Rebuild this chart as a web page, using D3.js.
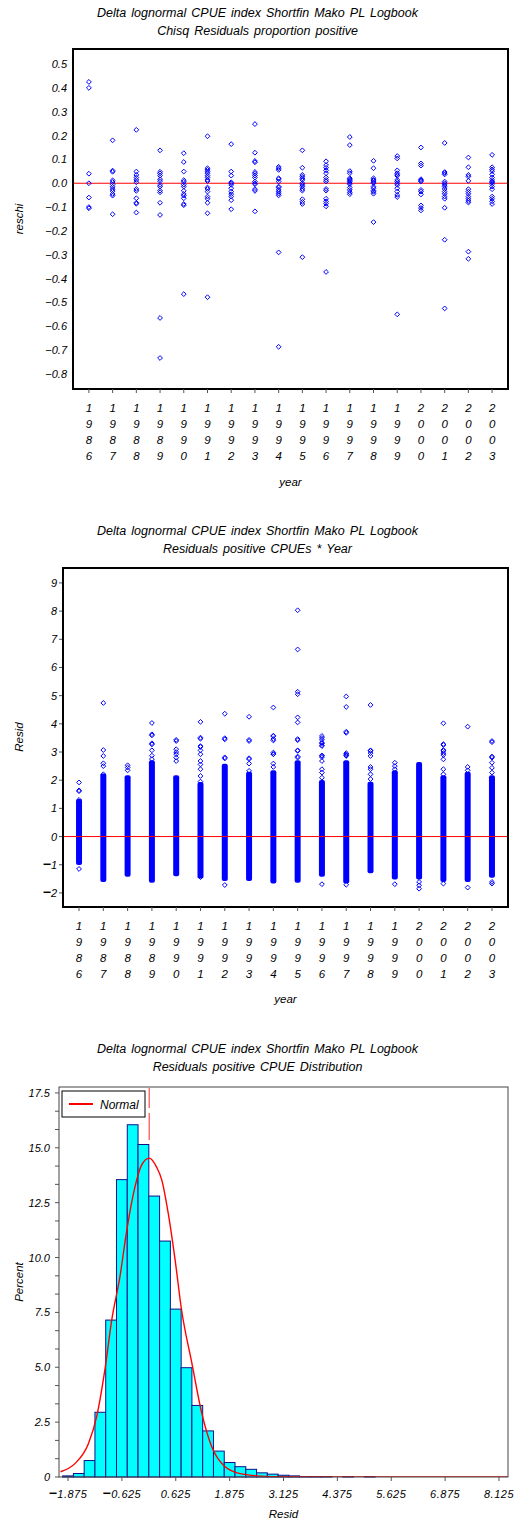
<!DOCTYPE html>
<html><head><meta charset="utf-8">
<script src="https://cdn.jsdelivr.net/npm/d3@7"></script>
<style>
body{margin:0;background:#fff}
svg text{font-family:"Liberation Sans",Arial,sans-serif;font-style:italic;fill:#000}
</style>
</head><body>
<svg id="chart" width="515" height="1528"></svg>
<script>
// ---------------- DATA ----------------
const titleTop = "Delta lognormal CPUE index Shortfin Mako PL Logbook";
const subtitle1 = "Chisq Residuals proportion positive";
const subtitle2 = "Residuals positive CPUEs * Year";
const subtitle3 = "Residuals positive CPUE Distribution";

const years = [1986,1987,1988,1989,1990,1991,1992,1993,1994,1995,1996,1997,1998,1999,2000,2001,2002,2003];

// Chart 1: chi-square residuals (reschi) per year
const reschi1986 = [0.425, 0.40, 0.04, 0.0, -0.06, -0.10, -0.105];
const reschi1987 = [0.18, 0.053, 0.048, 0.012, 0.005, -0.005, -0.015, -0.025, -0.033, -0.045, -0.052, -0.13];
const reschi1988 = [0.224, 0.049, 0.035, 0.024, 0.014, 0.004, -0.024, -0.032, -0.063, -0.082, -0.086, -0.123];
const reschi1989 = [0.138, 0.048, 0.041, 0.032, 0.017, 0.009, -0.007, -0.014, -0.031, -0.038, -0.082, -0.133, -0.565, -0.733];
const reschi1990 = [0.126, 0.089, 0.049, 0.013, 0.006, -0.006, -0.014, -0.032, -0.045, -0.052, -0.063, -0.087, -0.092, -0.465];
const reschi1991 = [0.197, 0.063, 0.056, 0.049, 0.042, 0.032, 0.024, 0.014, 0.009, -0.018, -0.024, -0.035, -0.056, -0.065, -0.082, -0.126, -0.478];
const reschi1992 = [0.164, 0.049, 0.032, 0.004, 0.0, -0.007, -0.021, -0.035, -0.046, -0.056, -0.071, -0.109];
const reschi1993 = [0.248, 0.128, 0.093, 0.088, 0.047, 0.040, 0.032, 0.024, 0.007, 0.0, -0.004, -0.025, -0.032, -0.118];
const reschi1994 = [0.069, 0.063, 0.056, 0.021, 0.017, 0.007, -0.014, -0.018, -0.028, -0.036, -0.044, -0.051, -0.29, -0.686];
const reschi1995 = [0.138, 0.065, 0.035, 0.028, 0.021, 0.014, 0.0, -0.007, -0.014, -0.024, -0.031, -0.067, -0.078, -0.087, -0.31];
const reschi1996 = [0.092, 0.076, 0.065, 0.054, 0.042, 0.024, 0.014, 0.007, -0.024, -0.031, -0.065, -0.076, -0.086, -0.097, -0.372];
const reschi1997 = [0.194, 0.160, 0.051, 0.042, 0.021, 0.017, 0.012, 0.007, 0.001, -0.004, -0.018, -0.028, -0.038, -0.046];
const reschi1998 = [0.094, 0.063, 0.021, 0.014, 0.010, 0.004, 0.0, -0.014, -0.021, -0.031, -0.036, -0.044, -0.163];
const reschi1999 = [0.114, 0.104, 0.054, 0.042, 0.035, 0.031, 0.014, 0.007, 0.0, -0.007, -0.021, -0.035, -0.049, -0.058, -0.55];
const reschi2000 = [0.150, 0.083, 0.074, 0.017, 0.012, 0.007, -0.028, -0.035, -0.047, -0.093, -0.104, -0.114];
const reschi2001 = [0.169, 0.047, 0.043, 0.037, 0.007, 0.0, -0.007, -0.014, -0.024, -0.035, -0.044, -0.056, -0.065, -0.103, -0.237, -0.525];
const reschi2002 = [0.108, 0.067, 0.035, 0.028, 0.010, -0.025, -0.035, -0.044, -0.056, -0.065, -0.074, -0.081, -0.287, -0.317];
const reschi2003 = [0.119, 0.067, 0.058, 0.051, 0.037, 0.024, 0.014, 0.007, 0.003, -0.004, -0.014, -0.025, -0.056, -0.065, -0.076, -0.087];
const reschiByYear = [reschi1986, reschi1987, reschi1988, reschi1989, reschi1990, reschi1991, reschi1992, reschi1993, reschi1994,
  reschi1995, reschi1996, reschi1997, reschi1998, reschi1999, reschi2000, reschi2001, reschi2002, reschi2003];
const reschiTicks = [-0.8,-0.7,-0.6,-0.5,-0.4,-0.3,-0.2,-0.1,0.0,0.1,0.2,0.3,0.4,0.5];

// Chart 2: residuals of positive CPUEs; the bulk of each year is a dense band (low..high) plus scattered points
const residDenseLow  = [-0.92, -1.53, -1.34, -1.55, -1.32, -1.40, -1.49, -1.49, -1.58, -1.55, -1.34, -1.58, -1.22, -1.44, -1.44, -1.53, -1.53, -1.38];
const residDenseHigh = [1.25, 2.15, 2.09, 2.62, 2.09, 1.85, 2.50, 2.21, 2.27, 2.62, 1.92, 2.62, 1.86, 2.27, 2.56, 2.09, 2.21, 2.09];
const residOutliers = [
  [1.92, 1.64, 1.61, 1.30, 1.22, -1.15],
  [4.74, 3.07, 2.86, 2.60, 2.50, 2.21],
  [2.53, 2.45, 2.35],
  [4.03, 3.63, 3.59, 3.31, 3.27, 3.06, 2.87, 2.75],
  [3.43, 3.39, 3.10, 3.00, 2.92, 2.80, 2.68],
  [4.07, 3.51, 3.47, 3.21, 3.18, 3.06, 2.92, 2.68, 2.56, 2.39, 2.15, 1.95, -1.44],
  [4.36, 3.49, 3.45, 2.81, 2.77, -1.72],
  [4.25, 3.43, 3.39, 2.78, 2.75, 2.59, 2.33],
  [4.58, 3.58, 3.56, 3.46, 3.41, 2.98, 2.93, 2.92, 2.59, 2.47],
  [8.03, 6.64, 5.14, 5.05, 4.23, 4.05, 3.46, 3.42, 3.06, 3.04, 2.84, 2.80],
  [3.57, 3.50, 3.43, 3.33, 3.31, 3.24, 3.21, 2.88, 2.86, 2.82, 2.68, 2.39, 2.27, 2.09, -1.69],
  [4.97, 4.60, 3.72, 3.68, 2.96, 2.92, 2.88, 2.86, -1.71],
  [4.67, 3.06, 3.04, 2.96, 2.86, 2.47, 2.39, 2.21, 2.04],
  [2.62, 2.50, 2.39, -1.69],
  [-1.61, -1.73, -1.85],
  [4.02, 3.28, 3.25, 3.07, 3.04, 2.96, 2.89, 2.74, 2.39, 2.21, -1.67],
  [3.90, 2.47, 2.35, -1.81],
  [3.39, 3.35, 2.84, 2.80, 2.62, 2.44, 2.27, -1.61, -1.67]
];
const residTicks = [-2,-1,0,1,2,3,4,5,6,7,8,9];

// Chart 3: histogram (bin midpoints, width 0.25) and fitted normal curve
const binMid = [-1.875,-1.625,-1.375,-1.125,-0.875,-0.625,-0.375,-0.125,0.125,0.375,0.625,0.875,1.125,1.375,1.625,1.875,2.125,2.375,2.625,2.875,3.125,3.375,3.625,3.875,4.125,4.625,5.125];
const binPercent = [0.05,0.16,0.75,2.95,7.15,13.55,16.05,15.15,12.8,10.75,7.65,4.98,3.26,2.1,1.18,0.66,0.47,0.35,0.19,0.13,0.08,0.05,0.02,0.02,0.02,0.02,0.02];
const normalX = [-2.05,-1.71,-1.40,-1.21,-1.02,-0.86,-0.67,-0.51,-0.32,-0.165,0.01,0.18,0.30,0.45,0.61,0.76,1.00,1.23,1.46,1.77,2.15,2.60,3.20,4.00,5.00,8.33];
const normalY = [0.24,0.62,1.53,2.75,4.88,7.16,9.13,11.26,13.23,14.22,14.53,14.12,13.54,12.02,9.89,7.61,5.18,2.90,1.38,0.47,0.14,0.04,0.01,0,0,0];
const meanLineX = 0.01;
const pctTicks = [0,2.5,5,7.5,10,12.5,15,17.5];
const pctTickLabels = ["0","2.5","5.0","7.5","10.0","12.5","15.0","17.5"];
const histXTicks = [-1.875,-0.625,0.625,1.875,3.125,4.375,5.625,6.875,8.125];
const histXTickLabels = ["-1.875","-0.625","0.625","1.875","3.125","4.375","5.625","6.875","8.125"];

// ---------------- DRAWING ----------------
const svg = d3.select("#chart");
const BLUE = "#0000ff", RED = "#ff0000";

function titles(y1, sub) {
  svg.append("text").attr("x", 257.5).attr("y", y1).attr("text-anchor","middle").attr("font-size",12.5).attr("word-spacing",1.6).text(titleTop);
  svg.append("text").attr("x", 257.5).attr("y", y1 + 18).attr("text-anchor","middle").attr("font-size",12.5).attr("word-spacing",1.6).text(sub);
}
function signedText(sel, str) {
  if (str.startsWith("-")) {
    sel.append("tspan").attr("font-weight","bold").attr("font-style","normal").attr("font-size",14).text("\u2212");
    sel.append("tspan").text(str.slice(1));
  } else sel.text(str);
}
function diamond(g, cx, cy) {
  const r = 2.4;
  g.append("path").attr("d", `M${cx},${cy-r}L${cx+r},${cy}L${cx},${cy+r}L${cx-r},${cy}Z`)
    .attr("fill","none").attr("stroke",BLUE).attr("stroke-width",1);
}
function yearAxis(x, yBottom, axisLabelY) {
  const g = svg.append("g");
  years.forEach(yr => {
    const px = x(yr);
    g.append("line").attr("x1",px).attr("x2",px).attr("y1",yBottom).attr("y2",yBottom+4).attr("stroke","#555");
    String(yr).split("").forEach((d,i) => {
      g.append("text").attr("x",px).attr("y",yBottom+23+16*i).attr("text-anchor","middle").attr("font-size",11.5).text(d);
    });
  });
  g.append("text").attr("x",(x.range()[0]+x.range()[1])/2).attr("y",axisLabelY).attr("text-anchor","middle").attr("font-size",11.5).text("year");
}
function yLabel(text, x, y) {
  svg.append("text").attr("transform",`translate(${x},${y}) rotate(-90)`).attr("text-anchor","middle").attr("font-size",11.5).text(text);
}

// ===== Chart 1 =====
titles(17.3, subtitle1);
{
  const x = d3.scaleLinear().domain([1985.33, 2003.67]).range([73, 508]);
  const y = d3.scaleLinear().domain([-0.863, 0.563]).range([389, 49]);
  const fmt = d3.format(".1f");
  reschiTicks.forEach(t => {
    const tx = svg.append("text").attr("x",67).attr("y",y(t)+4).attr("text-anchor","end").attr("font-size",11);
    signedText(tx, fmt(t));
  });
  svg.append("line").attr("x1",73).attr("x2",508).attr("y1",y(0)).attr("y2",y(0)).attr("stroke",RED).attr("stroke-width",1);
  const g = svg.append("g");
  years.forEach((yr,i) => reschiByYear[i].forEach(v => diamond(g, x(yr), y(v))));
  svg.append("rect").attr("x",73).attr("y",49).attr("width",435).attr("height",340).attr("fill","none").attr("stroke","#000").attr("stroke-width",2);
  yearAxis(x, 389, 486);
  yLabel("reschi", 23, 219);
}

// ===== Chart 2 =====
titles(535, subtitle2);
{
  const x = d3.scaleLinear().domain([1985.34, 2003.66]).range([63, 508]);
  const y = d3.scaleLinear().domain([-2.5, 9.53]).range([907, 568]);
  residTicks.forEach(t => {
    svg.append("line").attr("x1",59).attr("x2",63).attr("y1",y(t)).attr("y2",y(t)).attr("stroke","#555");
    const tx = svg.append("text").attr("x",57).attr("y",y(t)+4).attr("text-anchor","end").attr("font-size",11);
    signedText(tx, String(t));
  });
  const g = svg.append("g");
  years.forEach((yr,i) => {
    const px = x(yr);
    g.append("rect").attr("x",px-3).attr("width",6)
      .attr("y",y(residDenseHigh[i])-2.4).attr("height",y(residDenseLow[i])-y(residDenseHigh[i])+4.8)
      .attr("rx",2).attr("fill",BLUE);
    residOutliers[i].forEach(v => diamond(g, px, y(v)));
  });
  svg.append("line").attr("x1",63).attr("x2",508).attr("y1",y(0)).attr("y2",y(0)).attr("stroke",RED).attr("stroke-width",1);
  svg.append("rect").attr("x",63).attr("y",568).attr("width",445).attr("height",339).attr("fill","none").attr("stroke","#000").attr("stroke-width",2);
  yearAxis(x, 907, 1003);
  yLabel("Resid", 23, 737);
}

// ===== Chart 3 =====
titles(1053, subtitle3);
{
  const x = d3.scaleLinear().domain([-2.084, 8.334]).range([59, 508]);
  const y = d3.scaleLinear().domain([0, 17.77]).range([1477, 1087]);
  d3.range(0, 17.5 + 1e-6, 2.5/3).forEach(t => {
    svg.append("line").attr("x1",55).attr("x2",59).attr("y1",y(t)).attr("y2",y(t)).attr("stroke","#555");
  });
  pctTicks.forEach((t,i) => {
    svg.append("text").attr("x",50).attr("y",y(t)+4).attr("text-anchor","end").attr("font-size",11).text(pctTickLabels[i]);
  });
  const bw = 0.25;
  svg.append("g").selectAll("rect").data(binMid).join("rect")
    .attr("x", d => x(d - bw/2)).attr("width", d => x(d + bw/2) - x(d - bw/2))
    .attr("y", (d,i) => y(binPercent[i])).attr("height", (d,i) => y(0) - y(binPercent[i]))
    .attr("fill","#00ffff").attr("stroke","#10108a").attr("stroke-width",1);
  svg.append("line").attr("x1",x(meanLineX)).attr("x2",x(meanLineX)).attr("y1",1088).attr("y2",1140)
    .attr("stroke","#ff6666").attr("stroke-width",1.4).attr("stroke-dasharray","20,5,27");
  const pts = normalX.map((v,i) => [v, normalY[i]]);
  svg.append("clipPath").attr("id","clip3").append("rect").attr("x",59).attr("y",1087).attr("width",449).attr("height",390);
  svg.append("path").attr("clip-path","url(#clip3)")
    .attr("d", d3.line().x(d => x(d[0])).y(d => y(d[1])).curve(d3.curveMonotoneX)(pts))
    .attr("fill","none").attr("stroke",RED).attr("stroke-width",1.4);
  svg.append("rect").attr("x",59).attr("y",1087).attr("width",449).attr("height",390).attr("fill","none").attr("stroke","#444").attr("stroke-width",1);
  histXTicks.forEach((t,i) => {
    svg.append("line").attr("x1",x(t)).attr("x2",x(t)).attr("y1",1477).attr("y2",1481).attr("stroke","#555");
    const tx = svg.append("text").attr("x",x(t)).attr("y",1498).attr("text-anchor","middle").attr("font-size",11).attr("letter-spacing",0.5);
    signedText(tx, histXTickLabels[i]);
  });
  svg.append("text").attr("x",283.5).attr("y",1518).attr("text-anchor","middle").attr("font-size",11.5).text("Resid");
  yLabel("Percent", 23, 1282);
  svg.append("rect").attr("x",62).attr("y",1091).attr("width",83).attr("height",26).attr("fill","#fff").attr("stroke","#000").attr("stroke-width",1);
  svg.append("line").attr("x1",69).attr("x2",93).attr("y1",1104).attr("y2",1104).attr("stroke",RED).attr("stroke-width",2);
  svg.append("text").attr("x",100).attr("y",1108.5).attr("font-size",12).text("Normal");
}
</script>
</body></html>
